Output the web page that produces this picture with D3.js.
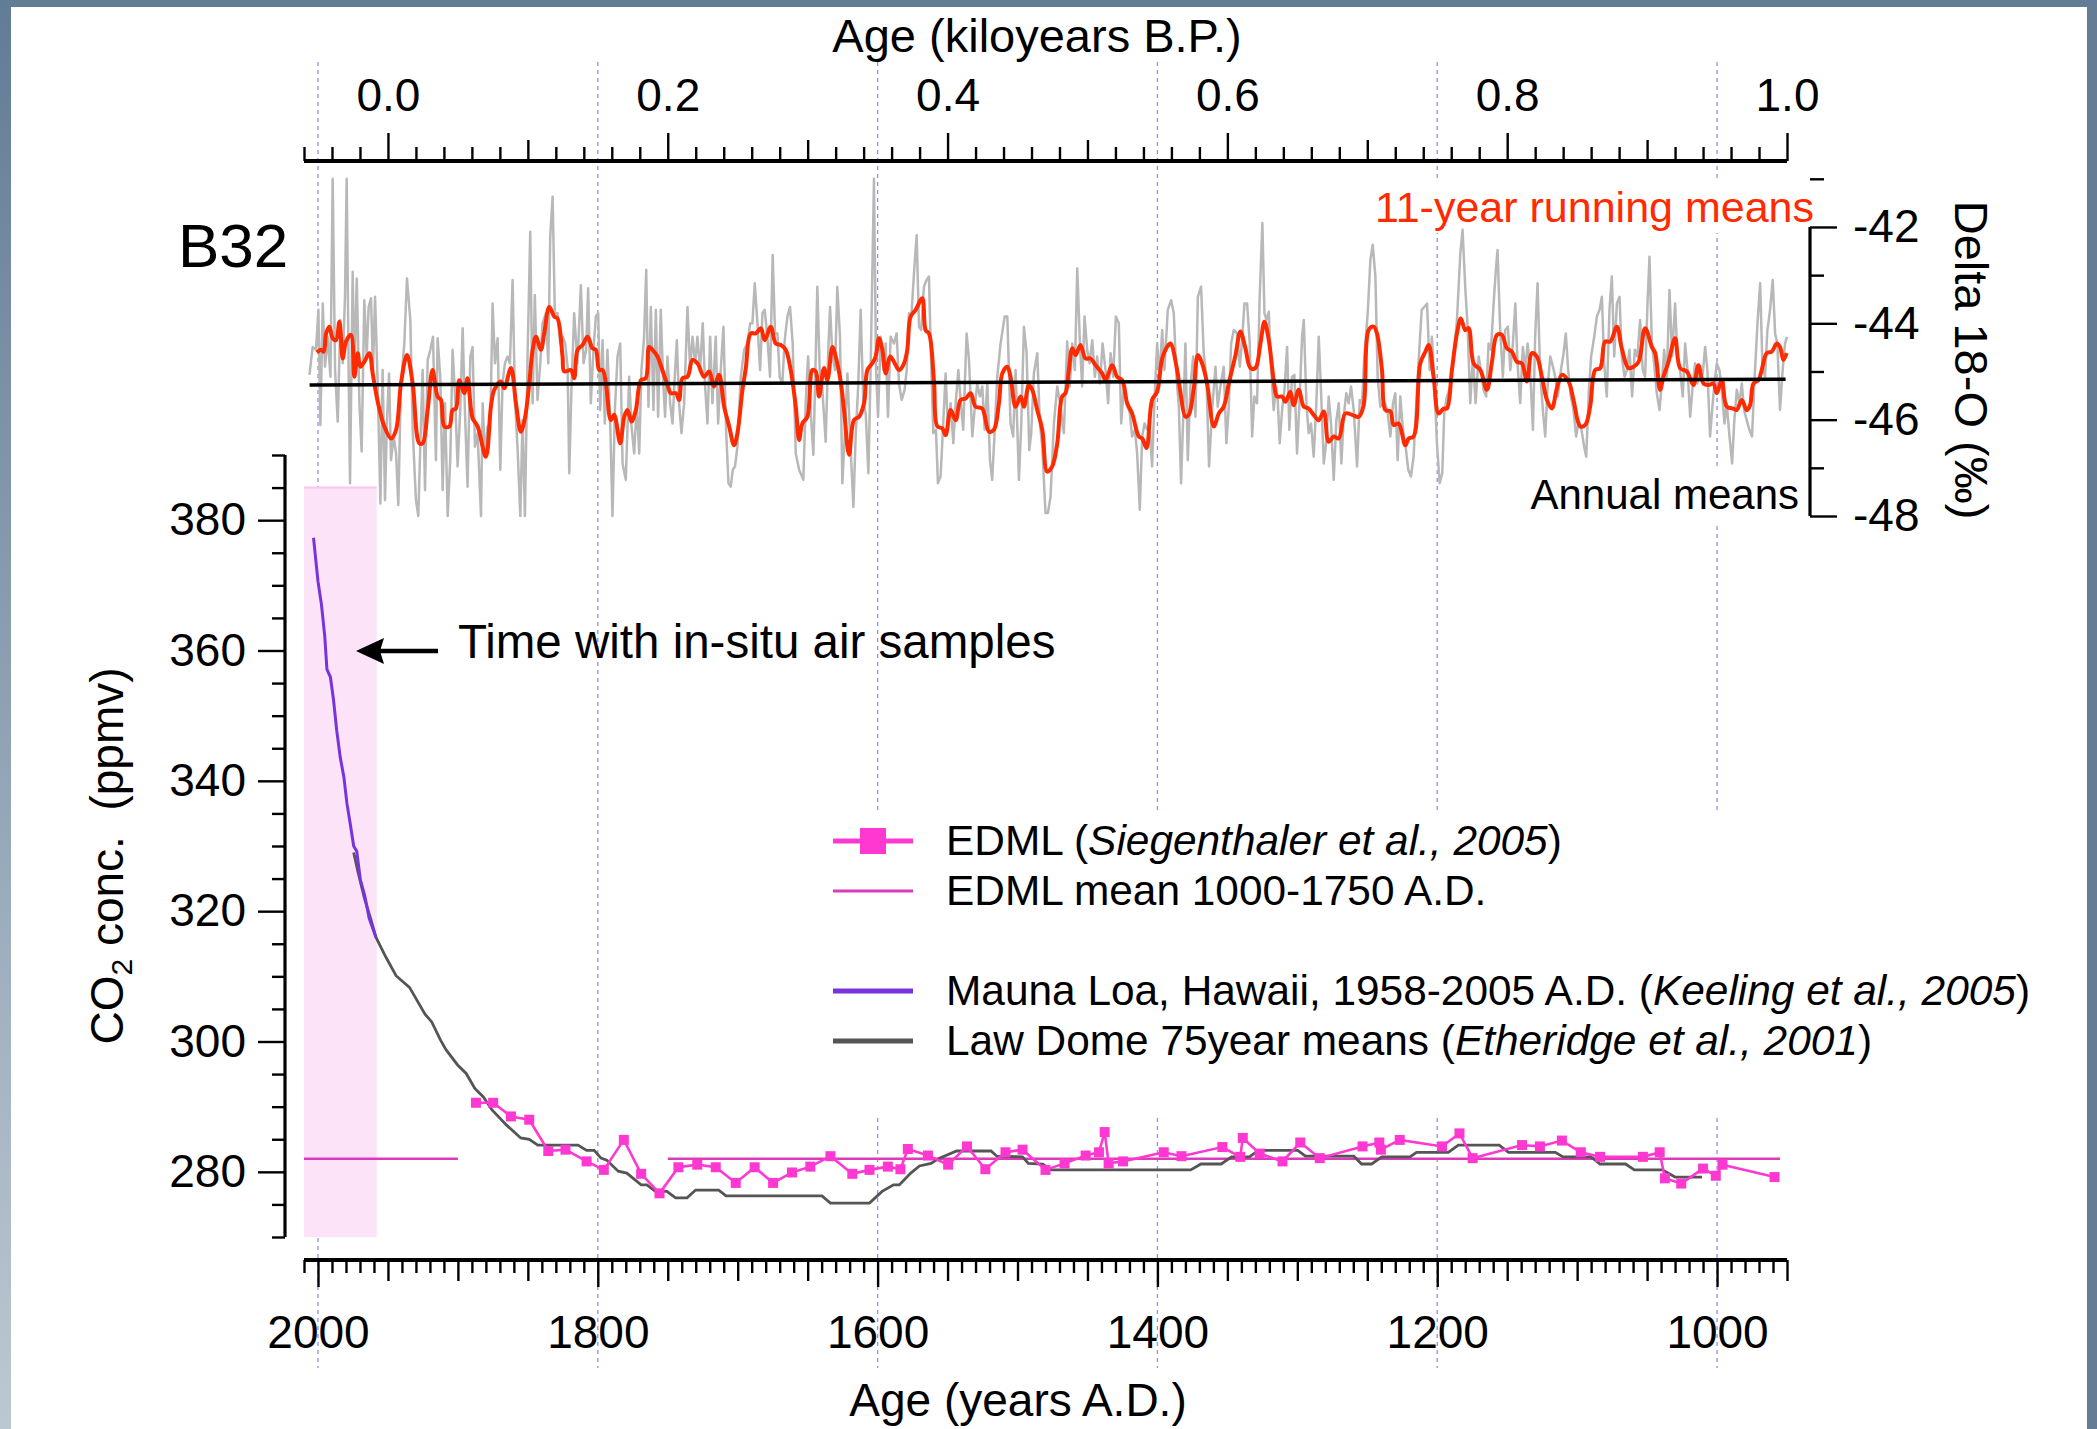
<!DOCTYPE html>
<html>
<head>
<meta charset="utf-8">
<script src="https://cdn.jsdelivr.net/npm/d3@7"></script>
<style>
  html, body { margin: 0; padding: 0; }
  body { width: 2097px; height: 1429px; overflow: hidden; background: #fff; }
</style>
</head>
<body>
<svg id="chart" width="2097" height="1429"></svg>
<script>
// B32 delta 18-O, annual means (year A.D., permil)
const annualMeans = [
  [2006.1,-45.07],[2003.8,-44.49],[2001.4,-44.55],[1999.7,-43.72],[1998.3,-46.11],[1996.6,-43.59],[1995.0,-44.90],[1993.1,-44.28],[1991.1,-45.11],[1989.5,-41.0],[1987.8,-44.97],[1985.9,-46.04],[1984.0,-43.93],[1982.3,-44.83],[1980.7,-43.45],[1979.5,-41.0],[1978.1,-44.97],[1977.1,-47.32],[1975.2,-42.93],[1974.0,-45.11],[1972.3,-43.07],[1970.4,-45.66],[1968.8,-46.66],[1966.9,-43.52],[1965.2,-44.69],[1963.8,-43.66],[1962.1,-43.48],[1960.7,-44.97],[1959.2,-43.45],[1957.3,-45.31],[1955.4,-47.74],[1953.8,-44.97],[1952.1,-47.67],[1950.7,-46.01],[1949.2,-45.04],[1947.8,-46.84],[1945.9,-46.35],[1944.2,-46.70],[1942.6,-47.77],[1940.7,-45.25],[1938.3,-44.42],[1936.4,-43.07],[1934.0,-43.93],[1932.3,-46.21],[1930.0,-47.67],[1928.3,-48.0],[1926.9,-46.56],[1925.2,-44.97],[1923.5,-47.46],[1921.6,-44.76],[1919.7,-44.55],[1917.8,-44.28],[1915.7,-46.84],[1914.5,-44.31],[1912.6,-45.11],[1910.9,-47.46],[1909.2,-45.66],[1907.3,-48.0],[1905.4,-46.77],[1903.8,-44.55],[1902.1,-45.45],[1900.2,-46.97],[1898.3,-45.80],[1896.6,-44.10],[1895.0,-45.80],[1893.1,-47.39],[1891.1,-44.69],[1889.5,-44.49],[1887.8,-46.56],[1885.9,-46.28],[1883.5,-48.0],[1882.3,-45.66],[1880.7,-46.77],[1878.8,-46.14],[1876.9,-46.21],[1875.2,-43.59],[1873.5,-44.83],[1871.6,-44.31],[1869.7,-47.04],[1868.1,-45.25],[1866.4,-44.83],[1864.5,-44.69],[1862.8,-44.83],[1860.9,-43.10],[1859.2,-45.59],[1857.3,-46.63],[1855.4,-48.0],[1853.8,-46.01],[1852.1,-48.0],[1850.2,-44.69],[1848.3,-42.10],[1846.6,-45.66],[1845.0,-43.41],[1843.1,-45.59],[1841.1,-44.83],[1839.5,-44.00],[1837.1,-43.79],[1835.4,-44.83],[1834.0,-42.20],[1832.3,-41.37],[1830.7,-43.79],[1828.8,-43.79],[1826.9,-44.42],[1825.2,-44.28],[1823.3,-44.42],[1821.6,-44.90],[1820.4,-47.11],[1818.8,-45.31],[1816.9,-43.79],[1814.5,-44.83],[1812.1,-43.21],[1810.2,-44.83],[1808.3,-44.55],[1806.9,-43.27],[1805.0,-45.66],[1803.1,-44.55],[1801.4,-43.86],[1799.7,-43.79],[1798.3,-45.80],[1796.6,-44.35],[1795.0,-46.08],[1793.1,-44.55],[1791.1,-46.08],[1789.5,-48.0],[1787.8,-45.80],[1785.9,-44.69],[1784.0,-44.42],[1782.3,-46.91],[1780.0,-47.25],[1777.6,-45.11],[1775.9,-46.14],[1774.0,-46.70],[1772.1,-45.66],[1770.4,-46.70],[1768.8,-44.97],[1766.9,-44.28],[1765.4,-42.89],[1763.8,-45.73],[1762.1,-43.66],[1760.2,-45.80],[1758.5,-43.72],[1756.9,-45.94],[1755.0,-43.72],[1753.3,-45.18],[1751.9,-45.94],[1750.2,-44.69],[1748.3,-45.66],[1746.6,-46.08],[1745.0,-45.11],[1743.5,-44.35],[1741.9,-45.66],[1740.2,-46.28],[1738.3,-45.66],[1735.9,-43.66],[1734.0,-44.97],[1732.3,-44.28],[1730.4,-44.83],[1728.8,-44.28],[1726.9,-44.97],[1725.0,-44.00],[1723.3,-45.31],[1721.6,-46.08],[1719.7,-44.28],[1718.1,-45.66],[1715.7,-44.28],[1714.0,-46.08],[1712.1,-44.97],[1710.2,-44.07],[1708.3,-46.21],[1706.6,-47.32],[1705.0,-47.39],[1703.5,-47.04],[1701.9,-46.97],[1700.2,-46.56],[1697.8,-45.11],[1695.4,-44.55],[1693.1,-44.42],[1691.1,-44.00],[1689.5,-44.00],[1687.8,-43.17],[1685.9,-44.00],[1684.0,-44.97],[1682.3,-43.79],[1680.7,-43.72],[1678.8,-44.28],[1676.9,-45.11],[1675.0,-42.58],[1673.3,-44.21],[1671.6,-44.21],[1670.0,-45.11],[1668.1,-45.25],[1666.4,-44.35],[1664.5,-43.86],[1662.6,-43.66],[1660.7,-44.42],[1658.5,-46.70],[1656.1,-47.04],
  [1653.1,-47.25],[1651.4,-45.66],[1649.7,-44.69],[1647.8,-45.87],[1645.9,-46.73],[1644.2,-44.62],[1643.1,-43.24],[1641.4,-44.97],[1639.5,-45.38],[1637.1,-46.46],[1635.4,-44.69],[1634.0,-43.66],[1632.3,-44.69],[1630.4,-44.97],[1628.8,-43.24],[1626.9,-44.28],[1625.2,-47.32],[1623.5,-46.35],[1621.6,-45.04],[1619.7,-46.35],[1617.3,-47.81],[1615.7,-46.35],[1614.0,-45.38],[1612.1,-43.72],[1610.2,-45.66],[1608.5,-45.87],[1606.6,-47.11],[1605.0,-44.97],[1602.6,-41.0],[1601.1,-44.97],[1599.7,-45.94],[1597.8,-44.28],[1595.9,-44.97],[1594.2,-44.42],[1592.6,-45.94],[1590.7,-44.28],[1588.3,-44.42],[1586.4,-44.21],[1584.7,-45.25],[1582.8,-45.59],[1580.7,-45.38],[1579.2,-44.97],[1577.6,-43.79],[1575.9,-43.86],[1574.0,-42.96],[1572.1,-42.17],[1570.4,-44.07],[1568.8,-44.14],[1566.9,-43.24],[1565.0,-43.10],[1563.3,-43.03],[1562.1,-44.42],[1560.2,-46.28],[1558.3,-46.21],[1556.9,-47.32],[1555.0,-47.18],[1553.1,-46.08],[1551.4,-45.04],[1549.7,-46.21],[1547.8,-45.66],[1545.9,-46.49],[1544.2,-45.66],[1542.3,-44.97],[1540.7,-45.59],[1538.8,-46.21],[1536.4,-44.21],[1534.7,-44.76],[1532.3,-46.35],[1530.7,-45.80],[1528.8,-45.25],[1526.9,-45.52],[1525.2,-45.31],[1523.5,-46.21],[1521.6,-45.25],[1519.7,-46.84],[1518.1,-47.25],[1516.4,-46.28],[1514.5,-45.11],[1512.1,-44.42],[1509.2,-43.86],[1507.3,-43.86],[1505.0,-46.08],[1503.1,-46.35],[1501.4,-44.97],[1499.0,-47.25],[1497.3,-46.08],[1495.4,-44.07],[1493.5,-44.62],[1491.6,-46.63],[1490.2,-46.28],[1488.3,-45.04],[1485.9,-44.62],[1484.0,-46.08],[1482.3,-46.56],[1480.0,-47.94],[1478.3,-47.94],[1476.4,-47.60],[1474.0,-46.08],[1471.6,-45.31],[1469.2,-45.73],[1466.9,-46.28],[1464.5,-44.38],[1462.6,-45.31],[1460.9,-44.42],[1459.0,-44.97],[1457.3,-42.86],[1455.4,-44.42],[1453.8,-45.31],[1452.1,-43.86],[1450.2,-44.55],[1448.5,-44.83],[1446.6,-44.35],[1444.7,-45.11],[1443.1,-44.69],[1441.1,-45.25],[1439.2,-44.42],[1437.1,-44.97],[1435.2,-45.66],[1433.5,-44.62],[1431.6,-45.11],[1429.7,-43.86],[1427.6,-44.00],[1425.9,-46.08],[1424.0,-45.31],[1422.1,-45.66],[1419.7,-45.87],[1418.1,-46.35],[1416.1,-46.21],[1414.5,-46.70],[1412.6,-47.87],[1410.9,-46.35],[1409.2,-46.08],[1407.3,-46.21],[1405.4,-46.21],[1403.8,-46.97],[1402.1,-45.59],[1400.2,-44.42],[1398.5,-45.11],[1396.6,-44.14],[1395.0,-44.97],[1392.6,-43.72],[1390.2,-43.52],[1388.3,-43.79],[1386.4,-45.11],[1384.7,-45.73],[1383.1,-47.32],[1381.1,-45.52],[1380.0,-44.42],[1378.3,-46.84],[1376.4,-45.31],[1374.5,-44.69],[1372.8,-45.94],[1371.1,-43.45],[1368.8,-43.24],[1366.9,-44.62],[1365.0,-45.11],[1363.1,-46.97],[1360.9,-45.80],[1358.5,-44.90],[1356.9,-45.73],[1355.0,-45.31],[1352.6,-44.90],[1350.7,-46.49],[1349.0,-45.73],[1347.3,-44.42],[1345.4,-44.14],[1343.1,-44.21],[1341.1,-44.90],[1339.5,-44.35],[1337.8,-43.59],[1335.9,-43.59],[1334.0,-44.42],[1332.3,-46.35],[1330.7,-45.52],[1328.8,-45.66],[1326.9,-43.45],[1325.0,-41.92],[1323.5,-43.79],[1322.1,-43.93],[1320.4,-43.76],[1318.8,-44.90],[1316.9,-45.80],[1315.2,-45.31],[1314.0,-45.59],[1312.6,-46.49],[1310.9,-45.80],[1309.2,-45.38],[1307.3,-44.49],[1305.7,-46.21],
  [1303.8,-45.11],[1302.1,-45.07],[1300.2,-46.70],[1298.5,-45.66],[1296.6,-44.28],[1295.4,-43.93],[1293.5,-45.66],[1291.9,-46.28],[1290.2,-46.08],[1288.3,-46.77],[1286.4,-45.66],[1284.7,-44.28],[1283.1,-45.38],[1281.1,-46.91],[1279.2,-46.42],[1277.6,-45.52],[1275.9,-46.08],[1274.0,-47.25],[1272.1,-46.01],[1270.4,-45.66],[1268.5,-46.91],[1266.9,-45.94],[1265.0,-45.45],[1263.3,-45.66],[1261.6,-45.31],[1259.7,-45.80],[1257.3,-46.97],[1255.4,-45.59],[1253.8,-45.66],[1252.1,-44.69],[1249.7,-43.79],[1247.8,-42.69],[1246.1,-42.37],[1244.2,-43.03],[1242.6,-45.11],[1240.7,-45.73],[1238.8,-45.66],[1237.1,-45.66],[1235.4,-45.87],[1233.5,-46.35],[1231.6,-45.66],[1230.0,-45.45],[1228.3,-46.84],[1226.4,-45.52],[1224.5,-46.21],[1222.6,-46.56],[1220.7,-47.04],[1218.8,-47.18],[1216.9,-46.77],[1215.0,-45.66],[1213.1,-44.69],[1211.1,-43.72],[1209.2,-43.66],[1207.3,-43.59],[1205.4,-44.97],[1203.8,-44.28],[1202.1,-45.25],[1200.2,-46.49],[1198.3,-47.32],[1196.4,-47.11],[1195.0,-45.87],[1193.1,-45.52],[1190.7,-45.31],[1188.3,-44.69],[1185.9,-43.93],[1183.5,-42.55],[1181.9,-42.06],[1180.0,-43.24],[1178.3,-44.07],[1176.4,-45.66],[1174.5,-44.69],[1172.6,-45.66],[1170.4,-44.69],[1168.8,-44.97],[1166.9,-45.38],[1165.0,-45.52],[1163.3,-44.42],[1161.6,-44.55],[1159.7,-43.59],[1158.1,-42.89],[1156.9,-42.48],[1155.0,-44.14],[1153.1,-45.11],[1151.4,-44.14],[1149.5,-44.07],[1147.8,-44.97],[1145.9,-44.42],[1144.2,-43.59],[1142.6,-44.83],[1140.7,-45.66],[1138.8,-44.49],[1137.1,-44.97],[1135.4,-44.42],[1133.5,-45.04],[1131.6,-46.21],[1130.0,-44.28],[1128.3,-43.17],[1126.4,-45.04],[1124.5,-45.80],[1122.8,-46.35],[1121.1,-45.31],[1119.2,-44.69],[1117.3,-44.90],[1115.7,-45.11],[1113.8,-45.52],[1111.6,-44.97],[1109.7,-44.62],[1108.1,-44.21],[1106.4,-44.97],[1104.5,-45.52],[1102.6,-45.80],[1100.7,-46.35],[1098.8,-46.01],[1096.9,-46.21],[1095.0,-46.56],[1093.5,-46.77],[1091.6,-45.38],[1090.0,-44.69],[1087.8,-44.28],[1085.9,-43.86],[1084.0,-43.72],[1082.3,-43.45],[1080.7,-44.83],[1078.8,-45.52],[1076.9,-43.72],[1075.2,-43.03],[1073.5,-44.69],[1071.6,-43.59],[1069.7,-43.45],[1068.1,-44.69],[1066.1,-45.11],[1064.5,-44.97],[1062.6,-44.55],[1060.7,-45.52],[1058.8,-44.55],[1056.9,-44.69],[1055.0,-43.93],[1053.1,-44.97],[1051.4,-45.11],[1049.7,-43.59],[1048.3,-42.62],[1046.6,-44.42],[1045.0,-44.83],[1043.1,-45.45],[1041.1,-45.80],[1039.5,-45.25],[1037.8,-44.55],[1035.9,-45.11],[1034.0,-43.31],[1032.1,-44.69],[1030.0,-43.59],[1028.3,-44.69],[1026.4,-44.97],[1024.5,-45.52],[1022.8,-44.42],[1021.1,-44.97],[1019.2,-45.94],[1017.3,-45.25],[1015.7,-44.83],[1014.0,-45.25],[1012.1,-44.97],[1010.2,-45.04],[1008.5,-44.49],[1006.9,-44.97],[1005.0,-46.35],[1003.5,-45.80],[1001.9,-45.25],[1000.2,-44.83],[998.3,-44.97],[996.6,-45.38],[994.7,-46.08],[993.1,-45.66],[991.1,-46.35],[989.2,-46.91],[987.8,-46.08],[985.9,-45.38],[984.0,-45.66],[982.3,-45.25],[980.7,-45.80],[978.8,-46.01],[976.9,-46.21],[975.0,-46.35],[973.1,-45.11],[971.1,-44.00],[969.2,-43.17],[967.6,-44.83],[965.7,-45.11],[964.0,-44.14],[962.1,-43.72],[960.2,-43.10],[958.5,-44.21],[956.9,-44.42],[955.0,-45.80],[953.1,-44.97],[951.4,-44.42],[950.0,-44.28]
];

// 11-year running means
const runningMeans = [
  [2000.7,-44.61],[1997.8,-44.55],[1995.9,-44.59],[1994.2,-44.21],[1991.9,-44.07],[1989.5,-44.31],[1987.1,-44.35],[1984.7,-43.97],[1982.3,-44.73],[1980.0,-44.38],[1976.4,-44.24],[1974.0,-45.11],[1971.6,-44.62],[1969.7,-44.90],[1966.9,-44.80],[1963.3,-44.62],[1960.9,-45.04],[1957.3,-45.63],[1952.6,-46.14],[1947.8,-46.39],[1944.2,-46.21],[1940.7,-45.25],[1936.4,-44.66],[1932.3,-45.25],[1927.6,-46.49],[1925.2,-46.49],[1921.6,-45.80],[1918.1,-44.97],[1914.5,-45.52],[1912.1,-45.59],[1909.7,-46.14],[1906.1,-46.14],[1903.8,-45.80],[1901.4,-45.77],[1899.0,-45.18],[1895.4,-45.45],[1893.1,-45.14],[1889.5,-45.97],[1885.9,-46.14],[1880.0,-46.77],[1876.4,-45.73],[1874.0,-45.38],[1869.2,-45.21],[1866.9,-45.35],[1862.1,-44.93],[1858.5,-45.66],[1855.0,-46.25],[1852.1,-45.97],[1849.0,-45.25],[1846.6,-44.55],[1844.2,-44.28],[1840.7,-44.55],[1838.3,-44.21],[1834.7,-43.66],[1831.1,-43.86],[1828.8,-43.90],[1825.2,-44.69],[1824.0,-45.00],[1819.2,-44.97],[1816.9,-45.14],[1814.5,-44.55],[1810.9,-44.45],[1807.3,-44.28],[1803.8,-44.52],[1801.4,-44.55],[1799.0,-44.97],[1796.6,-44.97],[1794.2,-45.25],[1790.7,-46.01],[1788.3,-45.90],[1784.0,-46.49],[1781.1,-45.94],[1778.8,-45.80],[1775.9,-46.04],[1772.8,-45.80],[1769.2,-45.18],[1765.7,-45.14],[1763.3,-44.49],[1760.9,-44.55],[1757.3,-44.69],[1755.0,-44.87],[1750.2,-45.28],[1747.8,-45.45],[1744.2,-45.45],[1741.9,-45.59],[1739.5,-45.14],[1735.9,-45.11],[1732.3,-44.76],[1728.8,-44.83],[1724.0,-45.11],[1720.4,-45.00],[1716.9,-45.31],[1713.3,-45.07],[1709.7,-45.73],[1706.1,-46.14],[1702.6,-46.53],[1700.2,-46.28],[1696.6,-45.38],[1694.2,-44.93],[1690.7,-44.21],[1687.1,-44.21],[1683.5,-44.10],[1680.7,-44.35],[1676.4,-44.07],[1672.8,-44.42],[1669.2,-44.45],[1665.7,-44.55],[1662.1,-44.97],[1658.5,-45.73],[1656.1,-46.42],
  [1653.8,-46.08],[1650.2,-45.94],[1646.6,-44.97],[1644.2,-45.00],[1641.9,-45.52],[1638.3,-44.93],[1635.9,-45.18],[1632.3,-44.49],[1630.0,-44.69],[1626.4,-45.21],[1624.0,-45.80],[1620.4,-46.73],[1616.9,-46.01],[1613.3,-45.94],[1609.7,-45.66],[1607.3,-44.97],[1603.8,-44.83],[1601.4,-44.69],[1599.0,-44.31],[1596.6,-44.55],[1594.2,-45.04],[1591.1,-44.69],[1588.3,-44.80],[1584.7,-44.97],[1581.1,-44.83],[1578.8,-44.55],[1576.4,-43.86],[1572.8,-43.72],[1568.1,-43.48],[1565.7,-44.14],[1563.3,-44.21],[1559.7,-45.21],[1557.3,-46.14],[1553.8,-46.18],[1551.4,-46.32],[1547.8,-45.80],[1544.2,-46.01],[1540.7,-45.59],[1537.1,-45.56],[1533.5,-45.45],[1530.0,-45.73],[1525.2,-45.77],[1520.4,-46.25],[1516.9,-46.21],[1513.3,-45.66],[1510.9,-45.04],[1507.3,-44.90],[1505.0,-45.11],[1501.4,-45.73],[1497.8,-45.52],[1495.4,-45.73],[1491.9,-45.28],[1489.5,-45.38],[1485.9,-45.80],[1482.3,-46.21],[1478.8,-47.08],[1475.2,-46.97],[1471.6,-46.49],[1468.1,-45.52],[1465.7,-45.45],[1463.3,-44.97],[1460.9,-44.52],[1458.5,-44.66],[1455.0,-44.45],[1451.4,-44.73],[1447.8,-44.73],[1444.2,-44.87],[1439.5,-45.04],[1437.1,-45.18],[1432.3,-44.87],[1428.8,-45.11],[1425.2,-45.18],[1421.6,-45.66],[1418.1,-45.87],[1413.3,-46.35],[1410.9,-46.39],[1407.8,-46.59],[1403.8,-45.59],[1400.2,-45.42],[1396.6,-44.73],[1393.1,-44.49],[1390.7,-44.42],[1385.9,-44.97],[1383.5,-45.45],[1380.0,-45.94],[1377.6,-45.90],[1374.0,-45.35],[1371.1,-44.66],[1368.1,-44.83],[1364.5,-45.25],[1359.7,-46.14],[1356.1,-45.87],[1352.6,-45.73],[1349.0,-45.25],[1344.2,-44.66],[1340.7,-44.17],[1337.1,-44.52],[1333.5,-44.93],[1330.0,-44.93],[1326.4,-44.42],[1323.5,-43.97],[1320.4,-44.35],[1316.9,-45.18],[1314.5,-45.52],[1310.9,-45.52],[1308.5,-45.63],[1305.0,-45.42],
  [1302.6,-45.70],[1299.0,-45.38],[1295.4,-45.73],[1291.9,-45.77],[1288.3,-45.90],[1284.7,-46.01],[1281.1,-45.83],[1277.6,-46.46],[1274.0,-46.35],[1270.4,-46.39],[1265.7,-45.87],[1260.9,-45.90],[1256.1,-45.94],[1252.6,-45.70],[1249.0,-44.14],[1245.4,-44.07],[1243.1,-44.21],[1239.5,-44.97],[1237.1,-45.80],[1233.5,-45.83],[1231.1,-46.11],[1227.6,-46.08],[1222.8,-46.53],[1220.4,-46.39],[1216.9,-46.35],[1212.1,-44.83],[1208.5,-44.59],[1206.1,-44.45],[1202.6,-45.11],[1199.0,-45.87],[1195.4,-45.77],[1193.1,-45.77],[1189.5,-44.97],[1185.9,-44.21],[1183.1,-43.90],[1180.0,-44.14],[1177.6,-44.10],[1174.0,-44.83],[1169.2,-44.97],[1164.5,-45.38],[1160.9,-44.80],[1157.3,-44.24],[1153.8,-44.24],[1150.2,-44.52],[1146.6,-44.59],[1143.1,-44.80],[1139.5,-44.83],[1135.9,-45.21],[1132.3,-44.62],[1128.8,-44.69],[1125.2,-45.11],[1121.6,-45.59],[1118.1,-45.77],[1114.5,-45.35],[1110.9,-45.07],[1106.1,-45.21],[1102.6,-45.59],[1097.8,-46.14],[1094.2,-46.11],[1090.7,-45.73],[1087.1,-44.97],[1083.5,-44.93],[1080.0,-44.38],[1076.4,-44.38],[1071.6,-44.07],[1068.1,-44.52],[1063.3,-44.93],[1059.7,-44.90],[1056.1,-44.80],[1051.4,-44.10],[1046.6,-44.49],[1044.2,-44.62],[1040.7,-45.38],[1038.3,-45.11],[1034.7,-44.80],[1030.0,-44.31],[1026.4,-44.93],[1021.6,-45.00],[1016.9,-45.28],[1013.3,-44.87],[1009.7,-45.25],[1006.1,-45.28],[1002.6,-45.25],[1000.2,-45.45],[996.6,-45.18],[993.1,-45.73],[988.3,-45.77],[985.9,-45.80],[982.3,-45.59],[978.8,-45.80],[976.4,-45.70],[974.0,-45.25],[970.4,-45.18],[968.1,-44.97],[964.5,-44.62],[960.9,-44.59],[957.3,-44.42],[955.0,-44.49],[952.6,-44.76],[950.2,-44.62]
];

// linear trend of the delta 18-O record
const deltaTrend = [[2006, -45.28], [951, -45.16]];

// CO2 (ppmv)
const maunaLoa = [
  [2003.2,377.3],[2000.0,370.6],[1997.5,367.0],[1995.2,362.3],[1993.6,357.1],[1991.1,355.9],[1988.9,352.4],[1986.6,347.7],[1984.1,343.6],[1981.5,340.6],[1979.3,336.5],[1977.1,333.6],[1974.5,330.0],[1972.3,329.2],[1969.7,324.8],[1966.6,322.4],[1963.4,318.9],[1958.6,316.0]
];
const lawDome = [
  [1974.5,329.0],[1971.3,325.9],[1966.6,321.8],[1962.4,318.9],[1958.6,316.0],[1951.6,313.0],[1944.2,310.1],[1934.6,308.3],[1923.5,304.2],[1918.7,303.0],[1912.4,300.2],[1908.4,298.7],[1900.2,296.4],[1894.1,295.1],[1887.9,292.8],[1881.8,291.5],[1875.6,289.5],[1865.4,287.2],[1855.1,285.2],[1849.0,285.0],[1842.9,284.1],[1814.1,284.1],[1808.0,283.3],[1802.6,283.3],[1797.7,282.1],[1793.6,281.8],[1785.4,280.1],[1779.3,279.8],[1769.0,278.0],[1764.9,278.0],[1758.8,277.0],[1750.6,277.0],[1744.4,276.0],[1736.2,276.0],[1730.1,277.2],[1713.6,277.2],[1708.3,276.3],[1639.8,276.3],[1633.7,275.2],[1605.8,275.2],[1596.8,277.0],[1588.6,278.0],[1584.5,278.0],[1576.3,279.8],[1570.1,280.9],[1561.9,281.3],[1555.8,282.1],[1543.5,283.2],[1518.9,283.2],[1514.8,282.4],[1496.4,282.3],[1492.3,281.3],[1482.0,281.2],[1475.9,280.3],[1376.2,280.3],[1368.9,281.2],[1354.4,281.2],[1347.0,282.3],[1334.3,282.3],[1327.7,283.3],[1299.7,283.3],[1294.2,282.4],[1259.6,282.4],[1254.1,281.2],[1246.9,281.2],[1239.6,282.3],[1219.5,282.3],[1214.8,283.0],[1192.1,283.0],[1184.9,284.1],[1155.7,284.1],[1149.1,283.0],[1115.6,283.0],[1110.1,282.3],[1090.1,282.3],[1083.6,281.2],[1065.4,281.2],[1059.1,280.3],[1039.1,280.3],[1030.0,279.2],[1010.7,279.2]
];
const edml = [
  [1887.1,290.6],[1874.8,290.6],[1862.1,288.5],[1849.0,288.0],[1835.4,283.2],[1823.1,283.4],[1808.0,281.6],[1795.7,280.3],[1781.4,284.9],[1769.0,279.7],[1755.9,276.7],[1742.4,280.7],[1728.9,281.1],[1715.7,280.7],[1701.4,278.3],[1687.9,280.7],[1674.7,278.3],[1661.2,279.9],[1648.1,280.8],[1633.7,282.4],[1618.1,279.7],[1605.8,280.3],[1592.7,280.8],[1583.7,280.4],[1578.4,283.5],[1564.0,282.5],[1549.6,281.1],[1536.1,283.9],[1523.0,280.4],[1508.6,283.0],[1496.4,283.4],[1480.0,280.3],[1466.4,281.3],[1451.3,282.5],[1441.8,283.0],[1437.7,286.1],[1434.9,281.3],[1424.6,281.6],[1395.5,283.0],[1382.8,282.4],[1353.6,283.8],[1340.8,282.3],[1339.0,285.2],[1326.9,282.8],[1310.6,281.6],[1297.9,284.5],[1284.0,282.1],[1253.4,283.9],[1241.4,284.5],[1240.3,283.4],[1226.8,284.9],[1196.6,283.9],[1184.1,285.9],[1174.7,282.1],[1139.4,284.1],[1126.6,283.9],[1110.9,284.8],[1097.4,283.0],[1083.6,282.3],[1053.0,282.3],[1041.0,283.0],[1037.3,279.0],[1025.6,278.2],[1010.0,280.5],[1000.9,279.4],[996.1,281.1],[958.9,279.2]
];
const edmlMean = 282.0;
const edmlMeanSpans = [[2010, 1900], [1750, 955]];

// time with in-situ air samples
const insituYears = [2010, 1958];
const insituTop = 385;

const gridYears = [2000, 1800, 1600, 1400, 1200, 1000];

const legendItems = [
  [['EDML (', false], ['Siegenthaler et al., 2005', true], [')', false]],
  [['EDML mean 1000-1750 A.D.', false]],
  null,
  [['Mauna Loa, Hawaii, 1958-2005 A.D. (', false], ['Keeling et al., 2005', true], [')', false]],
  [['Law Dome 75year means (', false], ['Etheridge et al., 2001', true], [')', false]]
];

const FONT = '"Liberation Sans", Arial, Helvetica, sans-serif';
const W = 2097, H = 1429;
const svg = d3.select('#chart');

// slide background
const defs = svg.append('defs');
const grad = defs.append('linearGradient').attr('id', 'bg')
    .attr('x1', 0).attr('y1', 0).attr('x2', 0).attr('y2', 1);
grad.append('stop').attr('offset', '0%').attr('stop-color', '#627c96');
grad.append('stop').attr('offset', '100%').attr('stop-color', '#bcc8d1');
svg.append('rect').attr('width', W).attr('height', H).attr('fill', 'url(#bg)');
svg.append('rect').attr('x', 2087).attr('width', 10).attr('height', H).attr('fill', '#667c95');
svg.append('rect').attr('x', 11).attr('y', 7).attr('width', 2076).attr('height', H).attr('fill', '#fff');

// scales
const x = d3.scaleLinear().domain([2010, 950]).range([304, 1787]);
const xk = d3.scaleLinear().domain([-0.06, 1.0]).range([304, 1787]);
const yD = d3.scaleLinear().domain([-48, -41]).range([516, 178.8]).clamp(true);
const yC = d3.scaleLinear().domain([270, 390]).range([1237, 455]);

// dotted guide lines
svg.append('g').selectAll('line').data(gridYears).join('line')
    .attr('x1', d => x(d)).attr('x2', d => x(d))
    .attr('y1', 62).attr('y2', 1368)
    .attr('stroke', '#8f8ff5').attr('stroke-width', 1.3)
    .attr('stroke-dasharray', '4,4');

// pink box
svg.append('rect')
    .attr('x', x(insituYears[0])).attr('y', yC(insituTop))
    .attr('width', x(insituYears[1]) - x(insituYears[0]))
    .attr('height', yC(270) - yC(insituTop))
    .attr('fill', '#fde3f7');
svg.append('line')
    .attr('x1', x(insituYears[0])).attr('x2', x(insituYears[1]))
    .attr('y1', yC(insituTop)).attr('y2', yC(insituTop))
    .attr('stroke', '#fbc6ef').attr('stroke-width', 2);

// white backing boxes for labels and legend
svg.append('rect').attr('x', 1368).attr('y', 180).attr('width', 450).attr('height', 53).attr('fill', '#fff');
svg.append('rect').attr('x', 1525).attr('y', 468).attr('width', 280).attr('height', 56).attr('fill', '#fff');
svg.append('rect').attr('x', 822).attr('y', 811).attr('width', 1218).attr('height', 304).attr('fill', '#fff');

// delta 18-O
const lineD = d3.line().x(d => x(d[0])).y(d => yD(d[1]));
svg.append('path').datum(annualMeans).attr('d', lineD)
    .attr('fill', 'none').attr('stroke', '#b8b8b8').attr('stroke-width', 2.5)
    .attr('stroke-linejoin', 'round');
svg.append('path').datum(runningMeans).attr('d', d3.line().curve(d3.curveCatmullRom).x(d => x(d[0])).y(d => yD(d[1])))
    .attr('fill', 'none').attr('stroke', '#ff2a00').attr('stroke-width', 4)
    .attr('stroke-linejoin', 'round');
svg.append('path').datum(deltaTrend).attr('d', lineD)
    .attr('fill', 'none').attr('stroke', '#000').attr('stroke-width', 3.5);

// CO2
const lineC = d3.line().x(d => x(d[0])).y(d => yC(d[1]));
edmlMeanSpans.forEach(s => {
    svg.append('line')
        .attr('x1', x(s[0])).attr('x2', x(s[1]))
        .attr('y1', yC(edmlMean)).attr('y2', yC(edmlMean))
        .attr('stroke', '#dd3ab9').attr('stroke-width', 2.6);
});
svg.append('path').datum(lawDome).attr('d', lineC)
    .attr('fill', 'none').attr('stroke', '#555').attr('stroke-width', 2.8);
svg.append('path').datum(edml).attr('d', lineC)
    .attr('fill', 'none').attr('stroke', '#ff38d2').attr('stroke-width', 2.6);
svg.append('g').selectAll('rect').data(edml).join('rect')
    .attr('x', d => x(d[0]) - 5).attr('y', d => yC(d[1]) - 5)
    .attr('width', 10).attr('height', 10).attr('fill', '#ff38d2');
svg.append('path').datum(maunaLoa).attr('d', lineC)
    .attr('fill', 'none').attr('stroke', '#7733dd').attr('stroke-width', 3);

// axes
function axisLayer(axis, values, size, fmt, pad) {
    const g = svg.append('g');
    g.call(axis.tickValues(values).tickSize(size).tickSizeOuter(0)
        .tickPadding(pad || 3).tickFormat(fmt || (() => '')));
    g.select('.domain').remove();
    g.selectAll('.tick line').attr('stroke', '#000').attr('stroke-width', 2.4);
    g.selectAll('.tick text').attr('font-size', 46).attr('font-family', FONT).attr('fill', '#000');
    return g;
}

// top axis (kiloyears B.P.)
const kTicks = d3.range(-3, 51);
const topY = 161;
[[kTicks.filter(i => i % 5 !== 0), 14], [kTicks.filter(i => i % 10 === 5), 21]].forEach(([v, s]) => {
    axisLayer(d3.axisTop(xk), v.map(i => i / 50), s).attr('transform', `translate(0,${topY})`);
});
axisLayer(d3.axisTop(xk), kTicks.filter(i => i % 10 === 0).map(i => i / 50), 28, d3.format('.1f'), 22)
    .attr('transform', `translate(0,${topY})`);
svg.append('line').attr('x1', 304).attr('x2', 1787).attr('y1', topY).attr('y2', topY)
    .attr('stroke', '#000').attr('stroke-width', 4);

// bottom axis (years A.D.)
const yTicks = d3.range(950, 2011, 10);
const botY = 1260;
axisLayer(d3.axisBottom(x), yTicks.filter(t => t % 50 !== 0), 13).attr('transform', `translate(0,${botY})`);
axisLayer(d3.axisBottom(x), yTicks.filter(t => t % 50 === 0 && t % 200 !== 0), 21).attr('transform', `translate(0,${botY})`);
axisLayer(d3.axisBottom(x), yTicks.filter(t => t % 200 === 0), 27, d3.format('d'), 28)
    .attr('transform', `translate(0,${botY})`);
svg.append('line').attr('x1', 304).attr('x2', 1787).attr('y1', botY).attr('y2', botY)
    .attr('stroke', '#000').attr('stroke-width', 4);

// left axis (CO2)
const cTicks = d3.range(270, 391, 5);
const leftX = 285;
axisLayer(d3.axisLeft(yC), cTicks.filter(t => t % 20 !== 0), 13).attr('transform', `translate(${leftX},0)`);
axisLayer(d3.axisLeft(yC), cTicks.filter(t => t % 20 === 0), 27, d3.format('d'), 12)
    .attr('transform', `translate(${leftX},0)`);
svg.append('line').attr('x1', leftX).attr('x2', leftX).attr('y1', yC(390)).attr('y2', yC(270))
    .attr('stroke', '#000').attr('stroke-width', 3.2);

// right axis (delta 18-O), plain hyphen as minus sign
const rightX = 1810;
axisLayer(d3.axisRight(yD), [-47, -45, -43, -41], 14).attr('transform', `translate(${rightX},0)`);
axisLayer(d3.axisRight(yD), [-48, -46, -44, -42], 27, d => String(d), 16)
    .attr('transform', `translate(${rightX},0)`);
svg.append('line').attr('x1', rightX).attr('x2', rightX).attr('y1', yD(-42)).attr('y2', yD(-48))
    .attr('stroke', '#000').attr('stroke-width', 3.2);

// texts
function label(tx, ty, str, size, opts) {
    const t = svg.append('text').attr('x', tx).attr('y', ty).text(str)
        .attr('font-family', FONT).attr('font-size', size).attr('fill', (opts && opts.fill) || '#000')
        .attr('text-anchor', (opts && opts.anchor) || 'start');
    return t;
}
label(1037, 52, 'Age (kiloyears B.P.)', 47, {anchor: 'middle'});
label(1018, 1416, 'Age (years A.D.)', 46, {anchor: 'middle'});
label(178, 267, 'B32', 62);
label(1814, 222, '11-year running means', 43, {anchor: 'end', fill: '#ff2a00'});
label(1799, 509, 'Annual means', 42, {anchor: 'end'});
label(458, 658, 'Time with in-situ air samples', 47.5);

// arrow
svg.append('line').attr('x1', 375).attr('x2', 438).attr('y1', 651).attr('y2', 651)
    .attr('stroke', '#000').attr('stroke-width', 4.5);
svg.append('path').attr('d', 'M356,651 L384,638 L380,651 L384,664 Z').attr('fill', '#000');

// rotated axis titles
const co2Title = svg.append('text').attr('transform', 'translate(123,856) rotate(-90)')
    .attr('font-family', FONT).attr('font-size', 46).attr('text-anchor', 'middle');
co2Title.append('tspan').text('CO');
co2Title.append('tspan').attr('font-size', 30).attr('dy', 9).text('2');
co2Title.append('tspan').attr('dy', -9).text(' conc.  (ppmv)').attr('xml:space', 'preserve');

svg.append('text').attr('transform', 'translate(1955,360) rotate(90)')
    .attr('font-family', FONT).attr('font-size', 47).attr('text-anchor', 'middle')
    .text('Delta 18-O (\u2030)');

// legend
legendItems.forEach((item, i) => {
    const cy = 841 + i * 50;
    if (!item) return;
    if (i === 0) {
        svg.append('line').attr('x1', 833).attr('x2', 913).attr('y1', cy).attr('y2', cy)
            .attr('stroke', '#ff38d2').attr('stroke-width', 5);
        svg.append('rect').attr('x', 860).attr('y', cy - 13).attr('width', 26).attr('height', 26)
            .attr('fill', '#ff38d2');
    } else {
        const col = i === 1 ? '#dd3ab9' : i === 3 ? '#7733dd' : '#555';
        svg.append('line').attr('x1', 833).attr('x2', 913).attr('y1', cy).attr('y2', cy)
            .attr('stroke', col).attr('stroke-width', i === 1 ? 3 : 5);
    }
    const t = svg.append('text').attr('x', 946).attr('y', cy + 14)
        .attr('font-family', FONT).attr('font-size', 42.4).attr('fill', '#000');
    item.forEach(([s, it]) => {
        t.append('tspan').text(s).attr('font-style', it ? 'italic' : 'normal');
    });
});
</script>
</body>
</html>
